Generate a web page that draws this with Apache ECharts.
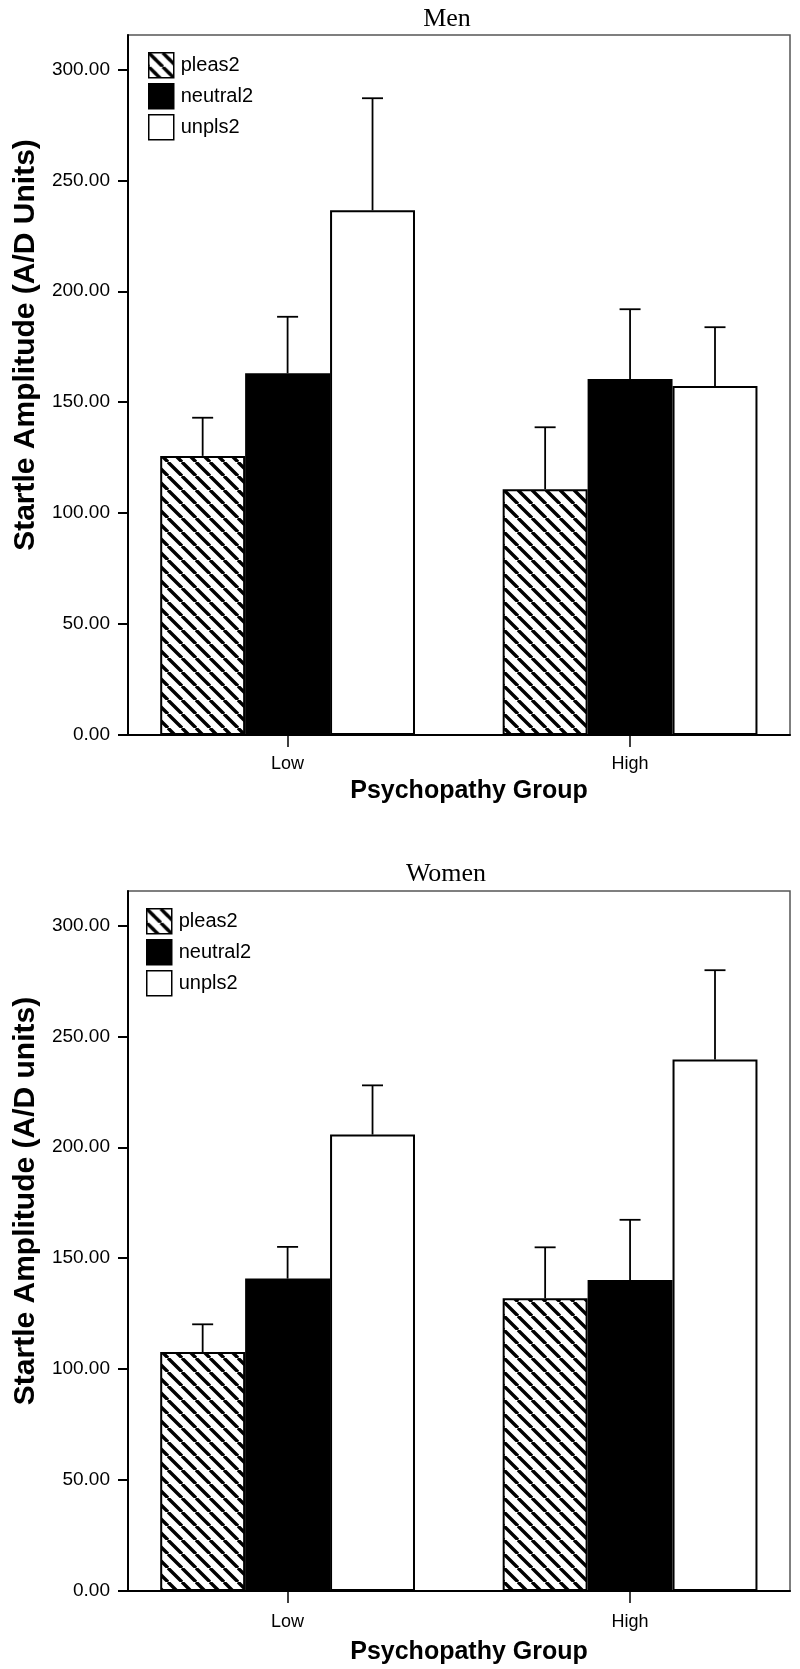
<!DOCTYPE html>
<html><head><meta charset="utf-8">
<script src="https://cdn.jsdelivr.net/npm/echarts@6/dist/echarts.min.js"></script>
<style>html,body{margin:0;padding:0;background:#fff}#c{width:800px;height:1669px}</style>
</head><body><div id="c"></div>
<script>
// ---- data ----
const categories = ['Low', 'High'];
const seriesNames = ['pleas2', 'neutral2', 'unpls2'];
const yTicks = [0, 50, 100, 150, 200, 250, 300];
const panelTitles = ['Men', 'Women'];
const yAxisNames = ['Startle Amplitude (A/D Units)', 'Startle Amplitude (A/D units)'];
const xAxisName = 'Psychopathy Group';

// Men: means and upper ends of error bars
const menPleas = [125.8, 110.8];
const menNeutral = [163.0, 160.4];
const menUnpls = [236.5, 157.3];
const menPleasUpper = [143.0, 138.7];
const menNeutralUpper = [188.5, 191.9];
const menUnplsUpper = [287.0, 183.8];

// Women
const womenPleas = [107.7, 131.9];
const womenNeutral = [140.8, 140.2];
const womenUnpls = [205.7, 239.5];
const womenPleasUpper = [120.2, 154.9];
const womenNeutralUpper = [155.1, 167.3];
const womenUnplsUpper = [227.9, 279.8];

// ---- styles / layout ----
const BAR_FRAC = 0.248;
const X_MIN = -0.466, X_MAX = 1.467;   // axis range around the category indices
const FONT = 'Liberation Sans, Arial, Helvetica, sans-serif';
const catIdx = categories.map((c, k) => k);

function hatchCanvas() {
  const s = 14, c = document.createElement('canvas');
  c.width = s; c.height = s;
  const g = c.getContext('2d');
  g.fillStyle = '#fff'; g.fillRect(0, 0, s, s);
  g.strokeStyle = '#000'; g.lineWidth = 3.4;
  g.beginPath();
  for (let k = -1; k <= 1; k++) { g.moveTo(k * s, 0); g.lineTo(k * s + s, s); }
  g.stroke();
  return c;
}
const hatch = { image: hatchCanvas(), repeat: 'repeat' };
const fills = [hatch, '#000', '#fff'];

const panels = [
  { means: [menPleas, menNeutral, menUnpls], uppers: [menPleasUpper, menNeutralUpper, menUnplsUpper] },
  { means: [womenPleas, womenNeutral, womenUnpls], uppers: [womenPleasUpper, womenNeutralUpper, womenUnplsUpper] }
];

const gridTops = [35, 891];
const legendPos = [[148, 52], [146, 908]];
const titlePos = [[447, 6], [446, 861]];
const xLabelMargin = [20, 22];
const xNameGap = [44, 49];

const option = {
  animation: false,
  backgroundColor: '#fff',
  title: panelTitles.map((t, i) => ({
    text: t, left: titlePos[i][0], top: titlePos[i][1], textAlign: 'center', padding: 0,
    textStyle: { fontFamily: 'Liberation Serif, Times New Roman, serif', fontWeight: 'normal', fontSize: 26, color: '#000' }
  })),
  legend: panelTitles.map((t, i) => ({
    data: seriesNames, orient: 'vertical', left: legendPos[i][0], top: legendPos[i][1],
    padding: 0, itemWidth: 25, itemHeight: 25, itemGap: 4.5, icon: 'rect', selectedMode: false,
    itemStyle: { borderColor: '#000', borderWidth: 1.5 },
    textStyle: { fontFamily: FONT, fontSize: 20, color: '#000', padding: [0, 0, 0, 2] }
  })),
  grid: gridTops.map(t => ({
    left: 128, right: 10, top: t, height: 700, show: true,
    borderColor: '#555', borderWidth: 1.5, backgroundColor: 'transparent'
  })),
  xAxis: gridTops.map((t, i) => ({
    type: 'value', gridIndex: i, min: X_MIN, max: X_MAX,
    axisLine: { show: true, onZero: false, lineStyle: { color: '#000', width: 2 } },
    axisTick: { show: true, customValues: catIdx, length: 12, lineStyle: { color: '#000', width: 1.5 } },
    axisLabel: { customValues: catIdx, formatter: v => categories[Math.round(v)], fontFamily: FONT, fontSize: 18, color: '#000', margin: xLabelMargin[i] },
    splitLine: { show: false },
    name: xAxisName, nameLocation: 'middle', nameGap: xNameGap[i],
    nameTextStyle: { fontFamily: FONT, fontSize: 25, fontWeight: 'bold', color: '#000', padding: [0, 0, 0, 20] }
  })),
  yAxis: gridTops.map((t, i) => ({
    type: 'value', gridIndex: i, min: 0, max: 315.5,
    axisLine: { show: true, onZero: false, lineStyle: { color: '#000', width: 2 } },
    axisTick: { show: true, length: 10, customValues: yTicks, lineStyle: { color: '#000', width: 2 } },
    axisLabel: { customValues: yTicks, formatter: v => v.toFixed(2), fontFamily: FONT, fontSize: 19, color: '#000', margin: 18 },
    splitLine: { show: false },
    name: yAxisNames[i], nameLocation: 'middle', nameGap: 86,
    nameTextStyle: { fontFamily: FONT, fontSize: 30, fontWeight: 'bold', color: '#000', padding: [0, 0, 0, 80] }
  })),
  series: []
};

panels.forEach((p, gi) => {
  seriesNames.forEach((name, si) => {
    option.series.push({
      type: 'bar', name, xAxisIndex: gi, yAxisIndex: gi,
      data: catIdx.map(k => [k, p.means[si][k]]),
      barWidth: (BAR_FRAC * 100) + '%', barGap: '0%',
      itemStyle: { color: fills[si], borderColor: '#000', borderWidth: 2 },
      emphasis: { disabled: true }, z: 2
    });
  });
  seriesNames.forEach((name, si) => {
    option.series.push({
      type: 'custom', xAxisIndex: gi, yAxisIndex: gi, silent: true, z: 5,
      data: catIdx.map(k => [k, p.means[si][k], p.uppers[si][k]]),
      encode: { x: 0, y: [1, 2] },
      renderItem(params, api) {
        const unit = api.size([1, 0])[0];
        const w = unit * BAR_FRAC;
        const cx = api.coord([api.value(0), 0])[0] + (si - 1) * w;
        const y0 = api.coord([api.value(0), api.value(1)])[1];
        const y1 = api.coord([api.value(0), api.value(2)])[1];
        const half = 10.5;
        const st = { stroke: '#000', lineWidth: 1.8 };
        return { type: 'group', children: [
          { type: 'line', shape: { x1: cx, y1: y0, x2: cx, y2: y1 }, style: st },
          { type: 'line', shape: { x1: cx - half, y1: y1, x2: cx + half, y2: y1 }, style: st }
        ] };
      }
    });
  });
});

const chart = echarts.init(document.getElementById('c'), null, { renderer: 'canvas' });
chart.setOption(option);
</script>
</body></html>
